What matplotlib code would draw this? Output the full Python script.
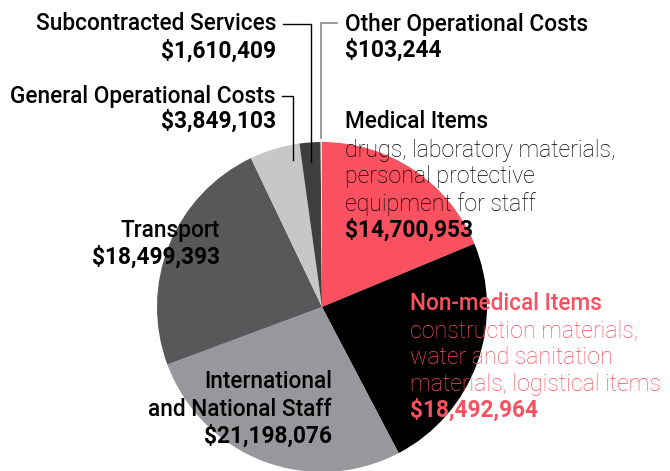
import matplotlib
matplotlib.use("Agg")
from matplotlib import pyplot as plt

# data
labels = ["Medical Items", "Non-medical Items", "International and National Staff",
          "Transport", "General Operational Costs", "Subcontracted Services",
          "Other Operational Costs"]
values = [14700953, 18492964, 21198076, 18499393, 3849103, 1610409, 103244]
colors = ["#fa5160", "#000000", "#98989c", "#58585a", "#c7c7c9", "#3f3f41", "#e6e6e6"]

PINK = "#fa5160"
H = 471


def y(px):
    # pixel row (from top) -> data y
    return H - px


fig = plt.figure(figsize=(6.7, 4.71), dpi=100)
ax = fig.add_axes([0, 0, 1, 1])

ax.pie(values, colors=colors, startangle=90, counterclock=False,
       center=(322, y(307)), radius=165, frame=True,
       wedgeprops=dict(linewidth=0))
ax.set_xlim(0, 670)
ax.set_ylim(0, H)
ax.set_aspect("equal")
ax.axis("off")

plt.rcParams["font.family"] = ["Roboto", "DejaVu Sans"]
fs = 16.3
fs_light = 16.7


def money(v):
    return "${:,}".format(v)


def txt(x, py, s, ha="left", w="medium", color="black", size=fs):
    ax.text(x, y(py), s, ha=ha, va="center", fontsize=size, fontweight=w, color=color)


# leader lines
ax.plot([283, 311, 311], [y(24), y(24), y(162)], color="black", lw=1)
ax.plot([282, 293, 293], [y(96), y(96), y(160)], color="black", lw=1)
ax.plot([337, 321, 321], [y(23), y(23), y(138)], color="#8a8a8a", lw=1.2)

# labels
txt(276, 24, labels[5], ha="right")
txt(276, 51, money(values[5]), ha="right", w="bold")
txt(276, 96, labels[4], ha="right")
txt(276, 121, money(values[4]), ha="right", w="bold")

txt(345, 24, labels[6])
txt(345, 50, money(values[6]), w="bold")

txt(345, 122, labels[0])
txt(345, 150, "drugs, laboratory materials,", w="light", size=fs_light)
txt(345, 177, "personal protective", w="light", size=fs_light)
txt(345, 204, "equipment for staff", w="light", size=fs_light)
txt(345, 230, money(values[0]), w="bold")

txt(410, 304, labels[1], color=PINK)
txt(410, 331, "construction materials,", color=PINK, w="light", size=fs_light)
txt(410, 357, "water and sanitation", color=PINK, w="light", size=fs_light)
txt(410, 384, "materials, logistical items", color=PINK, w="light", size=fs_light)
txt(410, 410, money(values[1]), w="bold", color=PINK)

txt(220, 230, labels[3], ha="right")
txt(220, 257, money(values[3]), ha="right", w="bold")

txt(332, 382, "International", ha="right")
txt(332, 409, "and National Staff", ha="right")
txt(332, 436, money(values[2]), ha="right", w="bold")

fig.savefig("out.png", dpi=100)
